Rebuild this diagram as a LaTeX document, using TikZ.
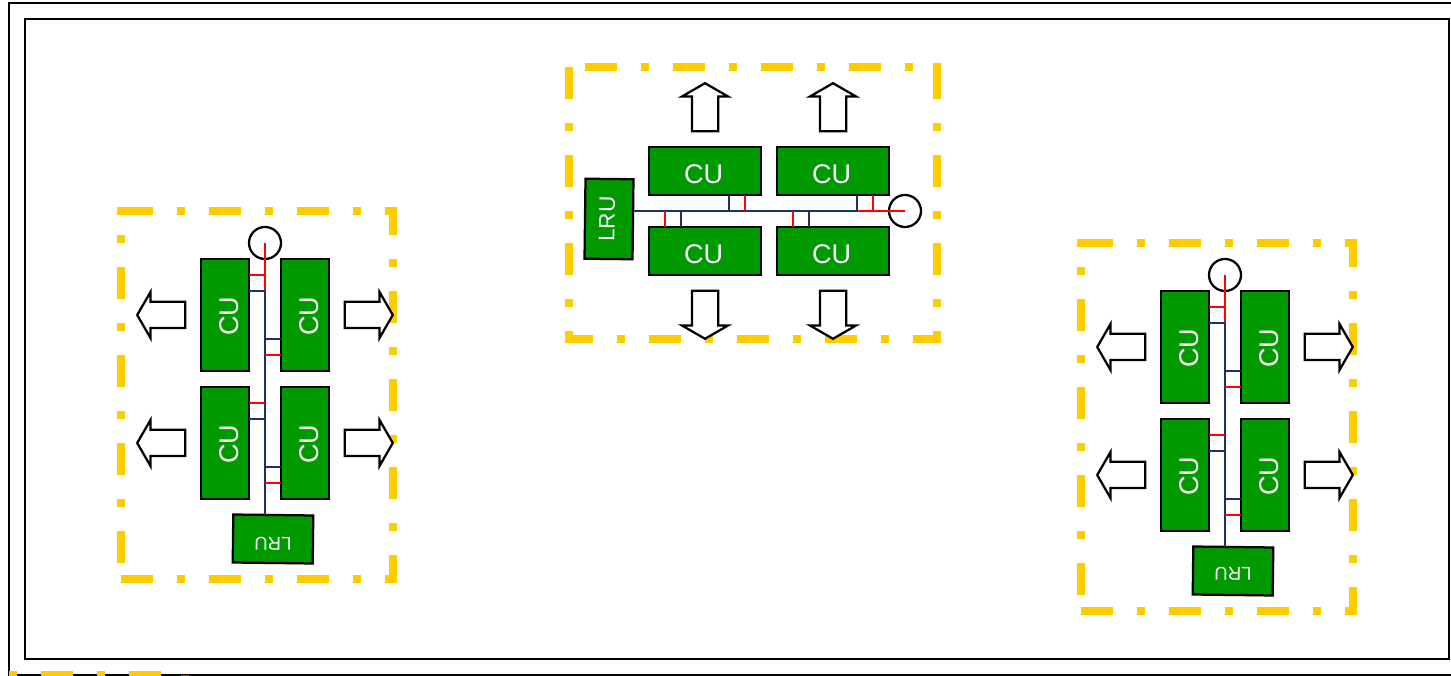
\documentclass[tikz,border=0pt]{standalone}
\usepackage{fontspec}
\setmainfont{Liberation Sans}
\usetikzlibrary{shapes.arrows}
\definecolor{cugreen}{HTML}{009900}
\definecolor{frameyellow}{HTML}{FFCC00}
\definecolor{busnavy}{HTML}{1F3068}
\definecolor{framedim}{HTML}{6B5A1E}
\tikzset{
  cu/.style={rectangle, fill=cugreen, draw=black, line width=2.25pt, outer sep=0pt, text=white, font=\fontsize{27}{27}\selectfont, text height=26pt, text depth=0pt, minimum width=112pt, minimum height=48pt},
  lru/.style={rectangle, fill=cugreen, draw=black, line width=2.25pt, outer sep=0pt, text=white, minimum width=80pt, minimum height=48pt},
  port/.style={circle, draw=black, line width=2.25pt, outer sep=0pt, inner sep=0pt, minimum size=32pt},
  flow/.style={single arrow, fill=white, draw=black, line width=2.25pt, inner sep=0pt, outer sep=0pt, text height=12pt, text depth=12pt, minimum width=44pt, minimum height=48pt, single arrow head extend=10pt, single arrow tip angle=120},
  frm/.style={draw=frameyellow, line width=8pt, miter limit=10, dash pattern=on 32pt off 24pt on 8pt off 24pt},
  redbus/.style={draw=red, line width=2pt},
  navybus/.style={draw=busnavy, line width=2pt},
  redstub/.style={draw=red, line width=1.75pt},
  navystub/.style={draw=busnavy, line width=1.75pt},
  border/.style={draw=black, line width=2pt},
  pics/cugroup/.style 2 args={code={
    % dashed frame
    \coordinate (tl) at (-136,184); \coordinate (tr) at (136,184);
    \coordinate (br) at (136,-184); \coordinate (bl) at (-136,-184);
    \draw[frm] (tl) -- (tr) -- (br) -- (bl);
    \draw[frm, dash phase=72pt] (bl) -- (tl);
    \coordinate (tn) at (-140,184);
    \draw[frameyellow, line width=8pt] (tn) -- (tl);
    % units
    \node[cu, rotate=90] (ua) at (-32,80) {CU\kern3pt};
    \node[cu, rotate=90] (ub) at (48,80) {CU\kern3pt};
    \node[cu, rotate=90] (uc) at (-32,-48) {CU\kern3pt};
    \node[cu, rotate=90] (ud) at (48,-48) {CU\kern3pt};
    \node[lru, rotate=179.3, text depth=#1, font=\fontsize{#2}{#2}\selectfont] (lr) at (16,-144) {LRU};
    \node[port] (pt) at (8,152) {};
    % bus
    \coordinate (r1) at (8,120); \coordinate (r1e) at (-8,120);
    \coordinate (n1) at (8,104); \coordinate (n1e) at (-8,104);
    \coordinate (n2) at (8,56); \coordinate (n2e) at (24,56);
    \coordinate (r2) at (8,40); \coordinate (r2e) at (24,40);
    \coordinate (r3) at (8,-8); \coordinate (r3e) at (-8,-8);
    \coordinate (n3) at (8,-24); \coordinate (n3e) at (-8,-24);
    \coordinate (n4) at (8,-72); \coordinate (n4e) at (24,-72);
    \coordinate (r4) at (8,-88); \coordinate (r4e) at (24,-88);
    \coordinate (nb) at (8,-120);
    \draw[redbus] (pt.center) -- (r4);
    \draw[navybus] (n1) -- (nb);
    \draw[redstub] (r1) -- (r1e);
    \draw[redstub] (r2) -- (r2e);
    \draw[redstub] (r3) -- (r3e);
    \draw[redstub] (r4) -- (r4e);
    \draw[navystub] (n1) -- (n1e);
    \draw[navystub] (n2) -- (n2e);
    \draw[navystub] (n3) -- (n3e);
    \draw[navystub] (n4) -- (n4e);
    % arrows
    \node[flow, rotate=180] (fa) at (-92,80) {};
    \node[flow] (fb) at (108,80) {};
    \node[flow, rotate=180] (fc) at (-92,-48) {};
    \node[flow] (fd) at (108,-48) {};
  }}
}
\begin{document}
\begin{tikzpicture}[x=1pt, y=1pt]
  \useasboundingbox (0,0) rectangle (1451,676);
  \coordinate (oa) at (9,1); \coordinate (ob) at (9,673);
  \coordinate (oc) at (1460,673); \coordinate (od) at (1460,1);
  \draw[border] (od) -- (oa) -- (ob) -- (oc);
  \node[draw=black, line width=2pt, outer sep=0pt, minimum width=1424pt, minimum height=640pt] (inner) at (737,337) {};
  \coordinate (sa) at (9,1); \coordinate (sb) at (165,1);
  \draw[frm, dash phase=56pt] (sa) -- (sb);
  \coordinate (sc) at (181,0.5); \coordinate (sd) at (189,0.5);
  \draw[framedim, line width=1.5pt] (sc) -- (sd);
  \pic[transform shape] (west) at (257,281) {cugroup={10pt}{18.5}};
  \pic[rotate=-90, transform shape] (mid) at (753,473) {cugroup={4pt}{22.5}};
  \pic[transform shape] (east) at (1217,249) {cugroup={5pt}{18.5}};
\end{tikzpicture}
\end{document}
